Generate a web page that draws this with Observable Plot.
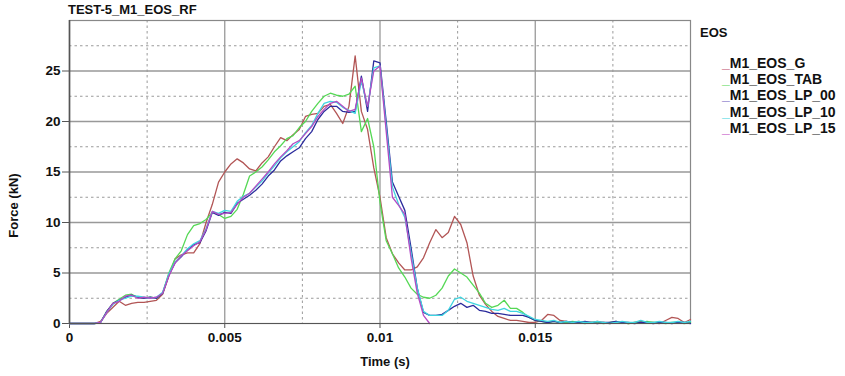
<!DOCTYPE html>
<html><head><meta charset="utf-8">
<script src="https://cdn.jsdelivr.net/npm/d3@7"></script>
<script src="https://cdn.jsdelivr.net/npm/@observablehq/plot@0.6"></script>
<style>
body{margin:0;background:#fff;}
#wrap{position:relative;width:845px;height:376px;font-family:"Liberation Sans",Arial,sans-serif;font-weight:bold;color:#111;overflow:hidden;}
#title{position:absolute;left:68px;top:2px;font-size:13px;white-space:nowrap;}
#ylab{position:absolute;left:-37px;top:198px;width:100px;text-align:center;font-size:13px;transform:rotate(-90deg);white-space:nowrap;}
#xlab{position:absolute;left:335px;top:354px;width:100px;text-align:center;font-size:13px;white-space:nowrap;}
#legend{position:absolute;left:700px;top:25px;font-size:13px;}
#legend .row{height:16.2px;line-height:16.2px;white-space:nowrap;font-size:14px;}
#chart{position:absolute;left:0;top:0;}
</style></head>
<body>
<div id="wrap">
  <div id="chart"></div>
  <div id="title"></div>
  <div id="ylab"></div>
  <div id="xlab"></div>
  <div id="legend"></div>
</div>
<script>
const chartTitle = "TEST-5_M1_EOS_RF";
const legendTitle = "EOS";
const xLabel = "Time (s)";
const yLabel = "Force (kN)";
const seriesNames = ["M1_EOS_G", "M1_EOS_TAB", "M1_EOS_LP_00", "M1_EOS_LP_10", "M1_EOS_LP_15"];
const seriesColors = ["#b25555", "#55d855", "#2b2b9c", "#3fd5e0", "#b44bc4"];
const legendMarkColors = ["#c04a6a", "#55d855", "#6a5ac0", "#3fd5e0", "#c044c4"];
const xTicks = [0, 0.005, 0.01, 0.015];
const xGridSolid = [0.005, 0.01, 0.015];
const xGridDashed = [0.0025, 0.0075, 0.0125, 0.0175];
const yTicks = [0, 5, 10, 15, 20, 25];
const yGridSolid = [5, 10, 15, 20, 25];
const yGridDashed = [2.5, 7.5, 12.5, 17.5, 22.5, 27.5];

const time = [0,0.0002,0.0004,0.0006,0.0008,0.001,0.0012,0.0014,0.0016,0.0018,
0.002,0.0022,0.0024,0.0026,0.0028,0.003,0.0032,0.0034,0.0036,0.0038,
0.004,0.0042,0.0044,0.0046,0.0048,0.005,0.0052,0.0054,0.0056,0.0058,
0.006,0.0062,0.0064,0.0066,0.0068,0.007,0.0072,0.0074,0.0076,0.0078,
0.008,0.0082,0.0084,0.0086,0.0088,0.009,0.0092,0.0094,0.0096,0.0098,
0.01,0.0102,0.0104,0.0106,0.0108,0.011,0.0112,0.0114,0.0116,0.0118,
0.012,0.0122,0.0124,0.0126,0.0128,0.013,0.0132,0.0134,0.0136,0.0138,
0.014,0.0142,0.0144,0.0146,0.0148,0.015,0.0152,0.0154,0.0156,0.0158,
0.016,0.0162,0.0164,0.0166,0.0168,0.017,0.0172,0.0174,0.0176,0.0178,
0.018,0.0182,0.0184,0.0186,0.0188,0.019,0.0192,0.0194,0.0196,0.0198,0.02];

const forceG = [0,0,0,0,0,0.2,1.0,1.6,2.2,1.8,
2.0,2.1,2.1,2.2,2.3,2.9,4.7,6.4,6.8,7.0,
7.0,7.9,10.0,11.8,14.0,15.0,15.8,16.3,15.9,15.3,
15.1,15.9,16.5,17.5,18.4,18.1,18.7,19.2,20.5,20.7,
20.8,21.5,21.7,20.8,19.8,21.5,26.5,21.0,19.2,15.4,
12.5,8.5,6.9,6.0,5.3,5.3,5.6,6.5,8.0,9.3,
8.5,9.0,10.6,9.8,8.0,4.7,2.8,1.9,1.2,0.7,
0.5,0.3,0.3,0.2,0.1,0.1,0.3,0.9,0.8,0.3,
0.2,0.1,0.2,0.1,0.1,0.2,0.1,0.0,0.1,0.1,
0.0,0.1,0.2,0.1,0.1,0.0,0.3,0.6,0.5,0.1,0.4];

const forceTAB = [0,0,0,0,0,0.1,1.2,2.0,2.4,2.8,
2.9,2.6,2.5,2.6,2.5,3.0,5.0,6.4,7.2,8.8,
9.7,9.9,10.3,11.0,10.8,10.4,10.6,11.3,12.8,14.6,
15.0,15.5,16.2,17.0,17.6,18.3,18.6,19.4,20.0,21.0,
21.8,22.5,22.8,22.6,22.5,22.7,23.5,19.0,20.3,17.5,
12.0,8.2,6.9,5.5,4.6,3.5,2.9,2.6,2.5,2.8,
3.5,4.7,5.4,5.0,4.6,3.8,3.0,2.0,1.6,1.8,
2.3,1.5,1.5,1.1,0.6,0.3,0.2,0.1,0.2,0.1,
0.1,0.2,0.1,0.0,0.1,0.1,0.0,0.1,0.2,0.1,
0.0,0.1,0.1,0.2,0.1,0.1,0.0,0.1,0.1,0.0,0.1];

const forceLP00 = [0,0,0,0,0,0.1,1.2,2.0,2.3,2.6,
2.8,2.6,2.5,2.6,2.5,3.0,4.8,6.0,6.6,7.3,
7.8,8.0,9.2,11.0,10.7,11.0,10.9,11.9,12.3,12.7,
13.2,13.8,14.6,15.2,16.1,16.6,17.0,17.4,18.3,19.0,
20.2,21.0,21.5,21.5,21.0,20.9,21.0,24.5,21.0,26.0,
25.8,20.0,14.0,12.6,11.2,7.5,3.5,1.1,0.8,0.8,
0.9,1.3,1.7,2.0,1.6,1.8,1.3,1.2,1.0,1.0,
0.9,0.8,0.8,0.8,0.6,0.3,0.2,0.1,0.2,0.1,
0.2,0.1,0.1,0.2,0.1,0.0,0.1,0.1,0.2,0.1,
0.1,0.0,0.1,0.1,0.0,0.1,0.1,0.0,0.1,0.1,0.0];

const forceLP10 = [0,0,0,0,0,0.1,1.1,1.9,2.3,2.5,
2.7,2.7,2.6,2.5,2.6,3.1,4.9,6.1,6.7,7.4,
7.9,8.2,9.4,11.1,10.9,11.2,11.1,12.1,12.6,12.9,
13.5,14.1,14.9,15.6,16.4,17.0,17.5,18.0,18.9,19.6,
20.8,21.8,22.0,21.9,21.4,21.1,20.8,24.0,21.5,25.3,
25.5,19.5,13.5,11.8,10.5,7.0,3.5,1.2,0.8,0.8,
0.8,1.3,2.4,2.6,2.2,2.0,1.8,1.6,1.4,1.3,
1.5,1.2,1.2,1.0,0.7,0.4,0.3,0.2,0.3,0.1,
0.2,0.1,0.2,0.1,0.1,0.2,0.1,0.0,0.1,0.2,
0.1,0.1,0.3,0.1,0.1,0.2,0.1,0.1,0.2,0.1,0.2];

const forceLP15 = [0,0,0,0,0,0.1,1.1,2.0,2.2,2.7,
2.8,2.5,2.6,2.5,2.6,3.0,4.7,6.0,6.7,7.2,
7.7,8.1,9.3,11.1,10.8,10.9,11.0,11.8,12.5,12.9,
13.6,14.3,15.0,15.8,16.5,17.1,17.8,18.1,18.8,19.5,
20.5,21.2,21.8,22.0,21.5,21.0,21.2,24.3,21.5,25.0,
25.5,19.0,12.5,11.7,10.8,6.5,3.0,0.8,0.0];

const seriesValues = [forceG, forceTAB, forceLP00, forceLP10, forceLP15];
const rows = [];
seriesValues.forEach((vals, k) => {
  vals.forEach((v, i) => rows.push({t: time[i], f: v, series: seriesNames[k]}));
});

const chart = Plot.plot({
  width: 845,
  height: 376,
  marginLeft: 69,
  marginRight: 155,
  marginTop: 20,
  marginBottom: 53,
  style: {fontFamily: "'Liberation Sans', Arial, sans-serif", fontSize: "13.5px", fontWeight: "bold", color: "#111", background: "transparent"},
  x: {domain: [0, 0.02]},
  y: {domain: [0, 30]},
  color: {domain: seriesNames, range: seriesColors},
  marks: [
    Plot.ruleX(xGridDashed, {stroke: "#9a9a9a", strokeDasharray: "2.5,3", strokeWidth: 1}),
    Plot.ruleY(yGridDashed, {stroke: "#9a9a9a", strokeDasharray: "2.5,3", strokeWidth: 1}),
    Plot.ruleX(xGridSolid, {stroke: "#999", strokeWidth: 1.3}),
    Plot.ruleY(yGridSolid, {stroke: "#999", strokeWidth: 1.3}),
    Plot.frame({stroke: "#888", strokeWidth: 1.2}),
    Plot.axisX({ticks: xTicks, tickFormat: d => String(d), tickSize: 5, tickPadding: 4, label: null, stroke: "#555"}),
    Plot.axisY({ticks: yTicks, tickSize: 7, tickPadding: 2, label: null, stroke: "#555"}),
    Plot.line(rows, {x: "t", y: "f", z: "series", stroke: "series", strokeWidth: 1.3}),
    Plot.ruleX([0], {stroke: "#555", strokeWidth: 1.6}),
    Plot.ruleY([0], {stroke: "#555", strokeWidth: 1.2})
  ]
});
document.getElementById("chart").appendChild(chart);
document.getElementById("title").textContent = chartTitle;
document.getElementById("ylab").textContent = yLabel;
document.getElementById("xlab").textContent = xLabel;
const leg = document.getElementById("legend");
const h = document.createElement("div");
h.textContent = legendTitle;
h.style.marginBottom = "15px";
h.style.fontSize = "13px";
leg.appendChild(h);
seriesNames.forEach((n, k) => {
  const r = document.createElement("div");
  r.className = "row";
  r.style.paddingLeft = "22px";
  const m = document.createElement("span");
  m.textContent = "_";
  m.style.color = legendMarkColors[k];
  const s = document.createElement("span");
  s.textContent = n;
  r.appendChild(m); r.appendChild(s);
  leg.appendChild(r);
});
</script>
</body></html>
